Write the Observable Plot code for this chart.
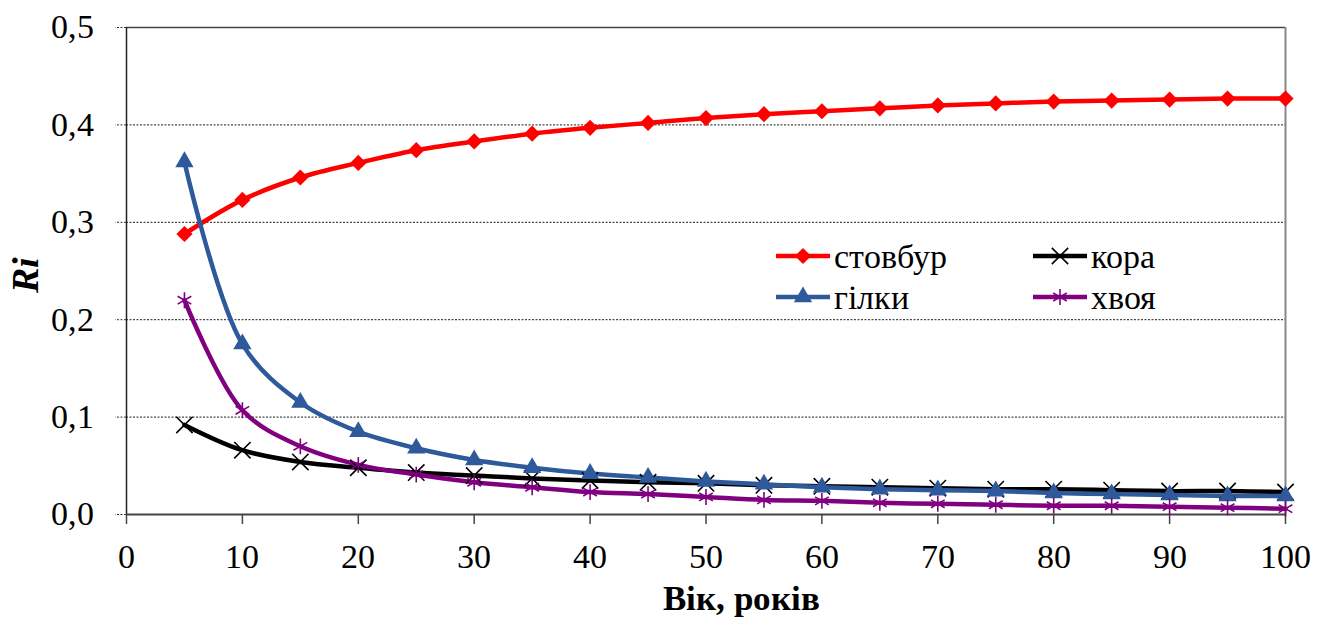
<!DOCTYPE html>
<html><head><meta charset="utf-8">
<script src="https://cdn.jsdelivr.net/npm/d3@7"></script>
<script src="https://cdn.jsdelivr.net/npm/@observablehq/plot@0.6"></script>
<style>
@font-face{font-family:"RefSerif";font-weight:400;font-style:normal;src:local("Liberation Serif"),local("LiberationSerif"),local("LiberationSerif-Regular"),local("Times New Roman"),local("DejaVu Serif"),local("DejaVuSerif");}
@font-face{font-family:"RefSerif";font-weight:700;font-style:normal;src:local("Liberation Serif Bold"),local("LiberationSerif-Bold"),local("Times New Roman Bold"),local("DejaVu Serif Bold"),local("DejaVuSerif-Bold");}
@font-face{font-family:"RefSerif";font-weight:700;font-style:italic;src:local("Liberation Serif Bold Italic"),local("LiberationSerif-BoldItalic"),local("Times New Roman Bold Italic"),local("DejaVu Serif Bold Italic"),local("DejaVuSerif-BoldItalic");}
body{margin:0;background:#fff;}
#wrap{position:relative;width:1327px;height:619px;font-family:RefSerif,"Liberation Serif","Times New Roman","DejaVu Serif",serif;}
#legend{position:absolute;left:0;top:0;pointer-events:none;}
</style></head><body><div id="wrap"></div>
<script>
// ---- data ----
const ages = [5,10,15,20,25,30,35,40,45,50,55,60,65,70,75,80,85,90,95,100];
const stovbur = [0.288,0.323,0.346,0.361,0.374,0.383,0.391,0.397,0.402,0.407,0.411,0.414,0.417,0.420,0.422,0.424,0.425,0.426,0.427,0.427];
const hilky   = [0.362,0.175,0.115,0.085,0.068,0.056,0.048,0.042,0.038,0.034,0.031,0.028,0.026,0.025,0.024,0.022,0.021,0.020,0.019,0.019];
const kora    = [0.092,0.066,0.054,0.048,0.043,0.040,0.037,0.035,0.033,0.032,0.030,0.029,0.028,0.027,0.026,0.026,0.025,0.024,0.024,0.023];
const khvoia  = [0.220,0.107,0.070,0.051,0.041,0.033,0.028,0.023,0.021,0.018,0.015,0.014,0.012,0.011,0.010,0.009,0.009,0.008,0.007,0.006];
const seriesNames = ["стовбур","гілки","кора","хвоя"];
const seriesValues = [stovbur, hilky, kora, khvoia];
const seriesColors = ["#ff0000","#2e5a9c","#000000","#800080"];
const seriesSymbols = ["diamond2","triangle","times","asterisk"];
const seriesFilled = [true,true,false,false];
const seriesR = [7.3, 6.8, 7.5, 7.5];
const xTicks = [0,10,20,30,40,50,60,70,80,90,100];
const yTicks = [0,0.1,0.2,0.3,0.4,0.5];
const xLabel = "Вік, років";
const yLabel = "Ri";

const FONT = 'RefSerif, "Liberation Serif", "Times New Roman", "DejaVu Serif", serif';

// ---- tidy table ----
const rows = [];
seriesNames.forEach((s,i)=>ages.forEach((a,j)=>rows.push({series:s, age:a, value:seriesValues[i][j]})));

const fmt = d => d.toFixed(1).replace(".", ",");
const drawOrder = [0,2,1,3];
const marks = [
  Plot.gridY(yTicks.filter(v=>v>0 && v<0.5), {stroke:"#000", strokeOpacity:0.9, strokeWidth:1, strokeDasharray:"2,1.5"}),
  Plot.axisY(yTicks, {tickSize:11, tickPadding:22, tickFormat:fmt, label:null, strokeDasharray:"2,1.5", stroke:"#333"}),
  Plot.axisX(xTicks, {tickSize:10, tickPadding:19, label:null, stroke:"#444", strokeWidth:1.5}),
  Plot.ruleY([0.5], {stroke:"#444", strokeWidth:1.5}),
  Plot.ruleX([100], {stroke:"#888", strokeWidth:2}),
  Plot.ruleX([0], {stroke:"#222", strokeWidth:1.5}),
  Plot.ruleY([0], {stroke:"#444", strokeWidth:2}),
];
drawOrder.forEach(i=>{
  marks.push(Plot.lineY(rows.filter(r=>r.series===seriesNames[i]), {x:"age", y:"value", stroke:seriesColors[i], strokeWidth:4.5, curve:"catmull-rom"}));
});
drawOrder.forEach(i=>{
  const data = rows.filter(r=>r.series===seriesNames[i]);
  if (seriesFilled[i]) {
    marks.push(Plot.dot(data, {x:"age", y:"value", symbol:seriesSymbols[i], fill:seriesColors[i], r:seriesR[i], stroke:"none"}));
  } else {
    marks.push(Plot.dot(data, {x:"age", y:"value", symbol:seriesSymbols[i], stroke:seriesColors[i], fill:"none", r:seriesR[i], strokeWidth:1.6}));
  }
});
marks.push(Plot.text([xLabel], {frameAnchor:"bottom", dx:35, dy:84, fontWeight:"bold", fontSize:35, lineAnchor:"middle", fontFamily:FONT}));
marks.push(Plot.text([yLabel], {frameAnchor:"left", rotate:-90, dx:-101, dy:22, fontWeight:"bold", fontStyle:"italic", fontSize:38, lineAnchor:"middle", fontFamily:FONT}));

const chart = Plot.plot({
  width:1327, height:619,
  marginLeft:126, marginRight:42, marginTop:27, marginBottom:105,
  style:{fontFamily:FONT, fontSize:"34px", color:"#000", background:"#fff", overflow:"visible"},
  x:{domain:[0,100]}, y:{domain:[0,0.5]},
  marks
});
const wrap = document.getElementById("wrap");
wrap.appendChild(chart);

// ---- legend (overlay) ----
const ns = "http://www.w3.org/2000/svg";
const lg = document.createElementNS(ns,"svg");
lg.setAttribute("id","legend"); lg.setAttribute("width",1327); lg.setAttribute("height",619);
const legendPos = [[776,256],[776,297],[1033,256],[1033,297]];
seriesNames.forEach((s,i)=>{
  const [x0,y0] = legendPos[i];
  const g = document.createElementNS(ns,"g");
  const ln = document.createElementNS(ns,"line");
  ln.setAttribute("x1",x0); ln.setAttribute("x2",x0+54); ln.setAttribute("y1",y0); ln.setAttribute("y2",y0);
  ln.setAttribute("stroke",seriesColors[i]); ln.setAttribute("stroke-width",4.5);
  g.appendChild(ln);
  const sym = {diamond2:d3.symbolDiamond2, triangle:d3.symbolTriangle, times:d3.symbolTimes, asterisk:d3.symbolAsterisk}[seriesSymbols[i]];
  const p = document.createElementNS(ns,"path");
  p.setAttribute("d", d3.symbol(sym, Math.PI*seriesR[i]*seriesR[i])());
  p.setAttribute("transform",`translate(${x0+27},${y0})`);
  if (seriesFilled[i]) { p.setAttribute("fill",seriesColors[i]); }
  else { p.setAttribute("fill","none"); p.setAttribute("stroke",seriesColors[i]); p.setAttribute("stroke-width",1.6); }
  g.appendChild(p);
  const t = document.createElementNS(ns,"text");
  t.setAttribute("x",x0+58); t.setAttribute("y",y0+12);
  t.style.fontFamily = FONT;
  t.setAttribute("font-size",34);
  t.textContent = s;
  g.appendChild(t);
  lg.appendChild(g);
});
wrap.appendChild(lg);
</script>
</body></html>
